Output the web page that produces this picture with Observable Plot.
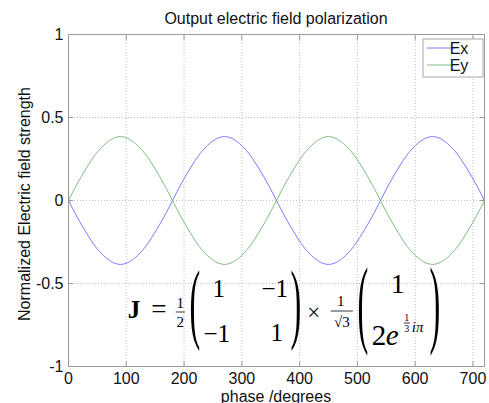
<!DOCTYPE html>
<html><head><meta charset="utf-8">
<script src="https://cdn.jsdelivr.net/npm/d3@7"></script>
<script src="https://cdn.jsdelivr.net/npm/@observablehq/plot@0.6"></script>
<style>body{margin:0;background:#fff} svg{display:block}</style>
</head><body><div id="chart"></div>
<script>
// ---- data ----
const phase = [0,15,30,45,60,75,90,105,120,135,150,165,180,195,210,225,240,255,270,285,300,315,330,345,360,
  375,390,405,420,435,450,465,480,495,510,525,540,555,570,585,600,615,630,645,660,675,690,705,720];
const ex = [0,-0.10,-0.19,-0.27,-0.33,-0.37,-0.385,-0.37,-0.33,-0.27,-0.19,-0.10,0,0.10,0.19,0.27,0.33,0.37,0.385,0.37,0.33,0.27,0.19,0.10,0,
  -0.10,-0.19,-0.27,-0.33,-0.37,-0.385,-0.37,-0.33,-0.27,-0.19,-0.10,0,0.10,0.19,0.27,0.33,0.37,0.385,0.37,0.33,0.27,0.19,0.10,0];
const ey = [0,0.10,0.19,0.27,0.33,0.37,0.385,0.37,0.33,0.27,0.19,0.10,0,-0.10,-0.19,-0.27,-0.33,-0.37,-0.385,-0.37,-0.33,-0.27,-0.19,-0.10,0,
  0.10,0.19,0.27,0.33,0.37,0.385,0.37,0.33,0.27,0.19,0.10,0,-0.10,-0.19,-0.27,-0.33,-0.37,-0.385,-0.37,-0.33,-0.27,-0.19,-0.10,0];
const seriesNames = ["Ex", "Ey"];
const seriesColors = ["#7b7bff", "#7fbf7f"];
const xTicks = [0,100,200,300,400,500,600,700];
const yTicks = [-1,-0.5,0,0.5,1];
const titleText = "Output electric field polarization";
const xLabel = "phase /degrees";
const yLabel = "Normalized Electric field strength";

const rows = phase.flatMap((p, i) => [
  {phase: p, v: ex[i], s: seriesNames[0]},
  {phase: p, v: ey[i], s: seriesNames[1]}
]);

const sans = "'Liberation Sans', Arial, sans-serif";
const serif = "'Liberation Serif', 'Times New Roman', serif";

const plot = Plot.plot({
  width: 489, height: 403,
  marginLeft: 68, marginRight: 5, marginTop: 34, marginBottom: 37,
  style: {fontFamily: sans, fontSize: "16px", color: "#000", background: "#fff", overflow: "visible"},
  x: {domain: [0, 720]},
  y: {domain: [-1, 1]},
  color: {domain: seriesNames, range: seriesColors},
  marks: [
    Plot.gridX(xTicks, {stroke: "#bdbdbd", strokeOpacity: 1, strokeDasharray: "1,2"}),
    Plot.gridY(yTicks, {stroke: "#bdbdbd", strokeOpacity: 1, strokeDasharray: "1,2"}),
    Plot.line(rows, {x: "phase", y: "v", z: "s", stroke: "s", strokeWidth: 1, curve: "natural"}),
    Plot.frame({stroke: "#9a9a9a"}),
    Plot.axisX(xTicks, {anchor: "bottom", tickSize: 0, tickPadding: 6, label: null, fill: "#111"}),
    Plot.axisX(xTicks, {anchor: "bottom", tickSize: -5, text: null, label: null, stroke: "#9a9a9a"}),
    Plot.axisX(xTicks, {anchor: "top", tickSize: -5, text: null, label: null, stroke: "#9a9a9a"}),
    Plot.axisY(yTicks, {anchor: "left", tickSize: 0, tickPadding: 5, label: null, tickFormat: d => String(d), fill: "#111"}),
    Plot.axisY(yTicks, {anchor: "left", tickSize: -5, text: null, label: null, stroke: "#9a9a9a"}),
    Plot.axisY(yTicks, {anchor: "right", tickSize: -5, text: null, label: null, stroke: "#9a9a9a"})
  ]
});
document.getElementById("chart").appendChild(plot);

const svg = d3.select(plot);
const xs = plot.scale("x"), ys = plot.scale("y");
const pLeft = xs.apply(0), pRight = xs.apply(720), pTop = ys.apply(1), pBottom = ys.apply(-1);
const pcx = (pLeft + pRight) / 2;

// title and axis labels
svg.append("text").attr("x", pcx).attr("y", 24).attr("text-anchor", "middle")
  .attr("font-family", sans).attr("font-size", 16).attr("fill", "#111").text(titleText);
svg.append("text").attr("x", pcx).attr("y", 401.5).attr("text-anchor", "middle")
  .attr("font-family", sans).attr("font-size", 16).attr("fill", "#111").text(xLabel);
svg.append("text").attr("transform", `translate(29.5,${(pTop + pBottom) / 2 + 4}) rotate(-90)`)
  .attr("text-anchor", "middle").attr("font-family", sans).attr("font-size", 16).attr("fill", "#111").text(yLabel);

// legend
const lg = svg.append("g");
lg.append("rect").attr("x", pRight - 61).attr("y", pTop + 5).attr("width", 60).attr("height", 38)
  .attr("fill", "#fff").attr("stroke", "#a8a8a8");
seriesNames.forEach((n, i) => {
  const yy = pTop + 14 + i * 17;
  lg.append("line").attr("x1", pRight - 57).attr("x2", pRight - 29).attr("y1", yy).attr("y2", yy)
    .attr("stroke", seriesColors[i]).attr("stroke-width", 1);
  lg.append("text").attr("x", pRight - 25).attr("y", yy).attr("dy", "0.36em")
    .attr("font-family", sans).attr("font-size", 16).attr("fill", "#111").text(n);
});

// formula annotation
const ox = xs.apply(100), oy = ys.apply(-0.5);
const fg = svg.append("g").attr("font-family", serif).attr("fill", "#000");
function T(dx, dy, str, size, opts = {}) {
  const e = fg.append("text").attr("x", ox + dx).attr("y", oy + dy).attr("font-size", size)
    .attr("text-anchor", opts.anchor || "middle").text(str);
  if (opts.bold) e.attr("font-weight", "bold");
  if (opts.italic) e.attr("font-style", "italic");
  return e;
}
function bar(dx1, dx2, dy) {
  fg.append("line").attr("x1", ox + dx1).attr("x2", ox + dx2).attr("y1", oy + dy).attr("y2", oy + dy)
    .attr("stroke", "#000").attr("stroke-width", 0.8);
}
function paren(ch, dx, dyTop, dyBot) {
  const F = 38, s = (dyBot - dyTop) / (0.87 * F);
  const y0 = oy + dyTop + 0.69 * F * s;
  fg.append("text").attr("transform", `translate(${ox + dx},${y0}) scale(0.85,${s})`)
    .attr("font-size", F).attr("text-anchor", "middle").text(ch);
}
T(2, 35, "J", 25, {anchor: "start", bold: true});
T(33, 35, "=", 27);
T(54.5, 25, "1", 15); bar(50, 59, 29); T(54.5, 44, "2", 15);
paren("(", 69, -13, 65);
T(93, 14, "1", 25); T(91, 59, "\u22121", 25);
T(149, 14, "\u22121", 25); T(151, 58, "1", 25);
paren(")", 170, -13, 65);
T(188, 37, "\u00d7", 23);
T(215, 23, "1", 15); bar(205, 227, 28); T(216, 44, "\u221a3", 15);
paren("(", 237, -15, 70);
T(272, 10, "1", 28);
T(246, 62, "2", 29, {anchor: "start"}); T(260, 62, "e", 29, {anchor: "start", italic: true});
T(281, 38, "1", 10); bar(278, 284, 40); T(281, 49, "3", 10);
T(286, 49, "i\u03c0", 15, {anchor: "start", italic: true});
paren(")", 309, -15, 70);
</script></body></html>
